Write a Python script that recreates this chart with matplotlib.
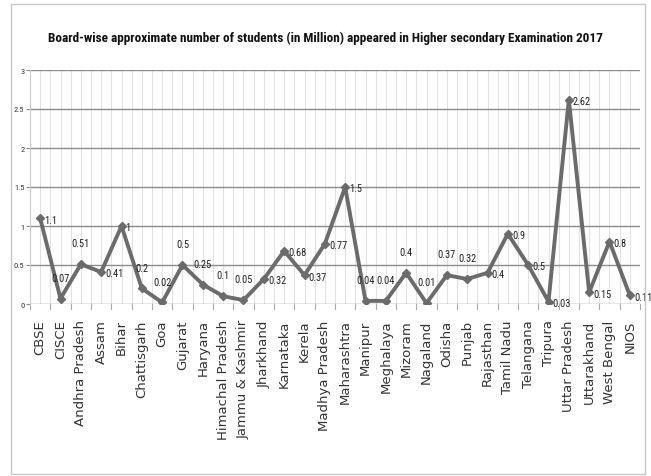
import matplotlib
matplotlib.use('Agg')
import matplotlib.pyplot as plt
from matplotlib.patches import Rectangle

boards = ['CBSE', 'CISCE', 'Andhra Pradesh', 'Assam', 'Bihar', 'Chattisgarh', 'Goa',
          'Gujarat', 'Haryana', 'Himachal Pradesh', 'Jammu & Kashmir', 'Jharkhand',
          'Karnataka', 'Kerela', 'Madhya Pradesh', 'Maharashtra', 'Manipur', 'Meghalaya',
          'Mizoram', 'Nagaland', 'Odisha', 'Punjab', 'Rajasthan', 'Tamil Nadu',
          'Telangana', 'Tripura', 'Uttar Pradesh', 'Uttarakhand', 'West Bengal', 'NIOS']
students = [1.1, 0.07, 0.51, 0.41, 1, 0.2, 0.02, 0.5, 0.25, 0.1, 0.05, 0.32, 0.68, 0.37,
            0.77, 1.5, 0.04, 0.04, 0.4, 0.01, 0.37, 0.32, 0.4, 0.9, 0.5, 0.03, 2.62,
            0.15, 0.8, 0.11]
labels = ['1.1', '0.07', '0.51', '0.41', '1', '0.2', '0.02', '0.5', '0.25', '0.1', '0.05',
          '0.32', '0.68', '0.37', '0.77', '1.5', '0.04', '0.04', '0.4', '0.01', '0.37',
          '0.32', '0.4', '0.9', '0.5', '0.03', '2.62', '0.15', '0.8', '0.11']
# 'r' = label right of point, 'a' = label above
placement = ['r', 'a', 'a', 'r', 'r', 'a', 'a', 'a', 'a', 'a', 'a', 'r', 'r', 'r', 'r', 'r',
             'a', 'a', 'a', 'a', 'a', 'a', 'r', 'r', 'r', 'r', 'r', 'r', 'r', 'r']
yticks = [0, 0.5, 1, 1.5, 2, 2.5, 3]
ytick_labels = ['0', '0.5', '1', '1.5', '2', '2.5', '3']

narrow = ['Roboto Condensed', 'Arial Narrow', 'Roboto', 'DejaVu Sans']

fig = plt.figure(figsize=(6.51, 4.77), dpi=100)
fig.patches.append(Rectangle((11 / 651, 2 / 477), 634 / 651, 470 / 477,
                             transform=fig.transFigure, fill=False,
                             edgecolor='#c8c8c8', lw=1))
ax = fig.add_axes([30 / 651, 1 - 305 / 477, 610 / 651, 234 / 477])

x = list(range(len(boards)))
ax.plot(x, students, color='#6b6b6b', lw=2.8, marker='D', ms=4.5,
        markerfacecolor='#6b6b6b', markeredgecolor='#6b6b6b', zorder=3)

for xi, yi, lab, pl in zip(x, students, labels, placement):
    if pl == 'r':
        ax.annotate(lab, (xi, yi), xytext=(3, -1), textcoords='offset points',
                    ha='left', va='center', fontsize=7.5, family=narrow,
                    color='#222222', annotation_clip=False)
    else:
        ax.annotate(lab, (xi, yi), xytext=(0, 15), textcoords='offset points',
                    ha='center', va='center', fontsize=7.5, family=narrow,
                    color='#222222', annotation_clip=False)

ax.set_xlim(-0.5, len(boards) - 0.5)
ax.set_ylim(0, 3)
ax.set_yticks(yticks)
ax.set_yticklabels(ytick_labels, family=narrow, fontsize=6, color='#333333')
ax.set_xticks(x)
ax.set_xticklabels(boards, rotation=90, fontsize=9.5, color='#333333')
ax.tick_params(axis='x', length=0, pad=11)
ax.tick_params(axis='y', length=3, color='#888888', pad=1)

# vertical light grid at every half category
for v in range(2 * len(boards) + 1):
    ax.axvline(-0.5 + v * 0.5, color='#e2e2e2', lw=0.8, zorder=0)
for yv in yticks:
    ax.axhline(yv, color='#8c8c8c', lw=1, zorder=1)
# small ticks below the axis between categories
for v in range(len(boards) + 1):
    ax.plot([v - 0.5, v - 0.5], [0, -0.06], color='#aaaaaa', lw=0.8,
            clip_on=False, zorder=1)

for s in ax.spines.values():
    s.set_visible(False)
ax.spines['left'].set_visible(True)
ax.spines['left'].set_color('#cccccc')

fig.text(0.5, 1 - 38 / 477,
         'Board-wise approximate number of students (in Million) appeared in Higher secondary Examination 2017',
         ha='center', va='center', fontsize=9.5, fontweight='bold', family=narrow,
         color='#111111')

fig.savefig('out.png', dpi=100)
